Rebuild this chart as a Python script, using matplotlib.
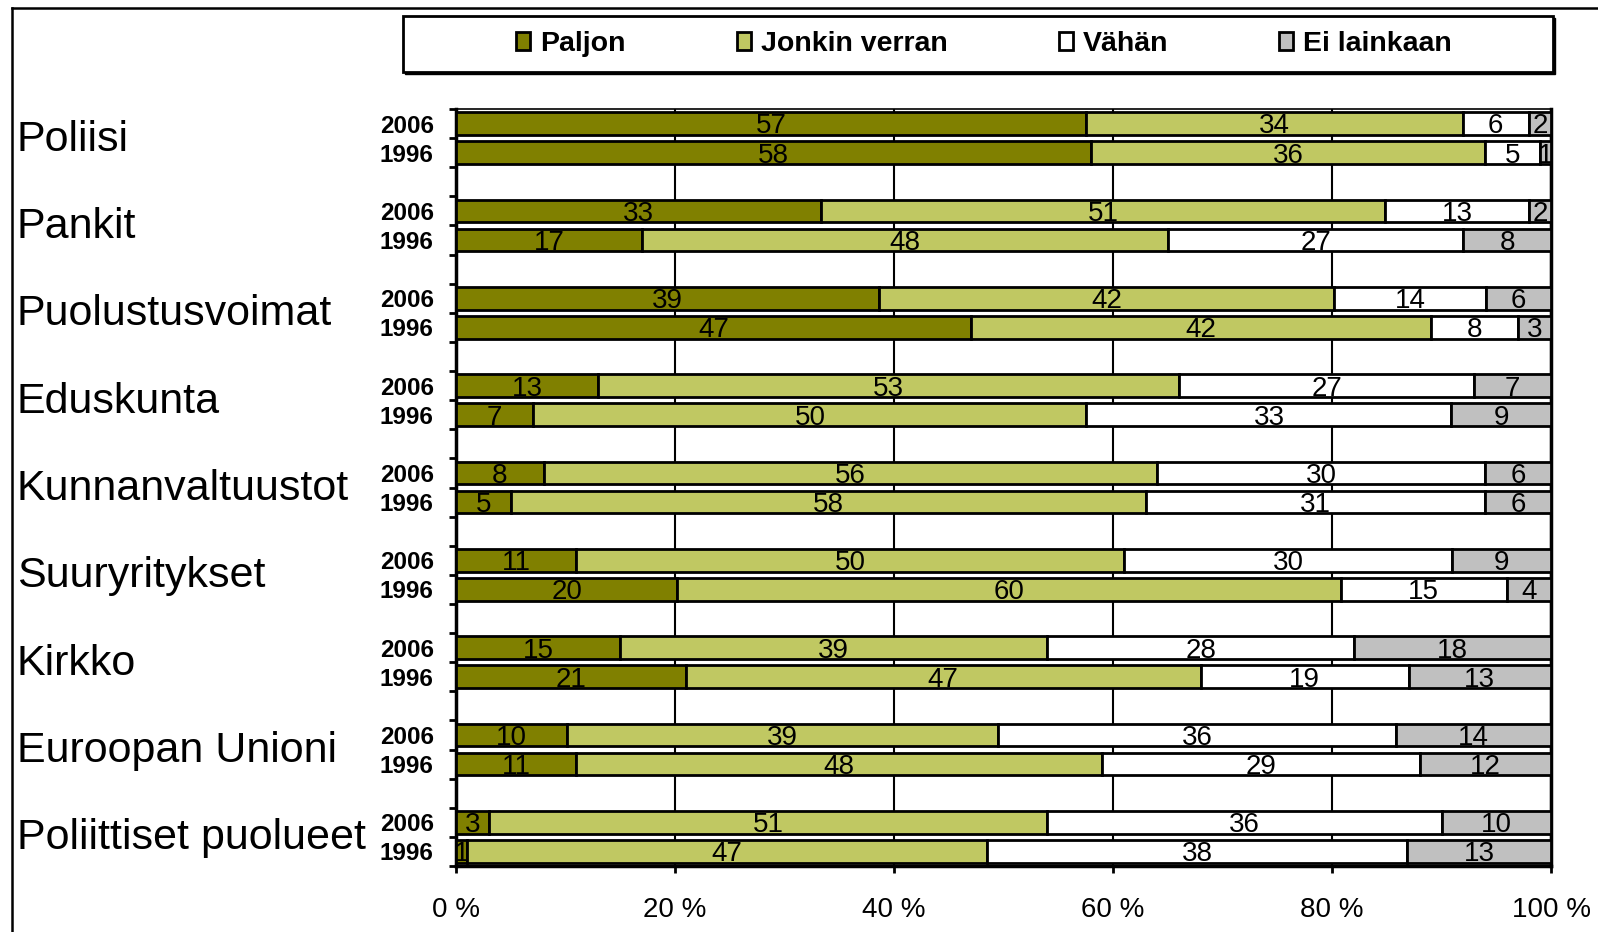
import numpy as np
import matplotlib; matplotlib.use('Agg')
import matplotlib.pyplot as plt
from matplotlib import font_manager
from matplotlib.lines import Line2D
from matplotlib.patches import Rectangle

# data: share of respondents (%), 2006 and 1996
categories = ['Poliisi', 'Pankit', 'Puolustusvoimat', 'Eduskunta', 'Kunnanvaltuustot',
              'Suuryritykset', 'Kirkko', 'Euroopan Unioni', 'Poliittiset puolueet']
years = ['2006', '1996']
series = ['Paljon', 'Jonkin verran', 'Vähän', 'Ei lainkaan']
paljon_2006 = [57, 33, 39, 13, 8, 11, 15, 10, 3]
paljon_1996 = [58, 17, 47, 7, 5, 20, 21, 11, 1]
jonkin_2006 = [34, 51, 42, 53, 56, 50, 39, 39, 51]
jonkin_1996 = [36, 48, 42, 50, 58, 60, 47, 48, 47]
vahan_2006 = [6, 13, 14, 27, 30, 30, 28, 36, 36]
vahan_1996 = [5, 27, 8, 33, 31, 15, 19, 29, 38]
ei_2006 = [2, 2, 6, 7, 6, 9, 18, 14, 10]
ei_1996 = [1, 8, 3, 9, 6, 4, 13, 12, 13]
x_ticks = [0, 20, 40, 60, 80, 100]

colors = ['#808000', '#C0C862', '#FFFFFF', '#C0C0C0']

names = {f.name for f in font_manager.fontManager.ttflist}
narrow = ['Liberation Sans Narrow', 'Liberation Sans'] if 'Liberation Sans Narrow' in names else ['Liberation Sans']
plt.rcParams['font.family'] = ['Liberation Sans', 'DejaVu Sans']

W, H = 1598, 932
def fx(px): return px / W
def fy(py): return 1 - py / H

# slot layout: 2006, 1996, blank per category
vals = {
    '2006': np.array([paljon_2006, jonkin_2006, vahan_2006, ei_2006], dtype=float),
    '1996': np.array([paljon_1996, jonkin_1996, vahan_1996, ei_1996], dtype=float),
}
pos, raw, ylab = [], [], []
for g in range(len(categories)):
    for k, yr in enumerate(years):
        pos.append(3 * g + k)
        raw.append(vals[yr][:, g])
        ylab.append(yr)
pos = np.array(pos)
raw = np.array(raw)                  # (18, 4)
pct = raw / raw.sum(1, keepdims=True) * 100

fig = plt.figure(figsize=(W / 100, H / 100), dpi=100)
ax = fig.add_axes([fx(456), fy(866), (1551 - 456) / W, (866 - 109) / H])

left = np.zeros(len(pos))
for j, s in enumerate(series):
    ax.barh(pos, pct[:, j], left=left, height=0.78, color=colors[j],
            edgecolor='black', linewidth=2, label=s, zorder=3)
    for i in range(len(pos)):
        ax.text(left[i] + pct[i, j] / 2, pos[i] + 0.1, f'{int(raw[i, j])}',
                ha='center', va='center', fontsize=20, family=narrow, zorder=4)
    left += pct[:, j]

ax.set_xlim(0, 100)
ax.set_ylim(25.5, -0.5)
ax.set_xticks(x_ticks)
ax.set_xticklabels([f'{t} %' for t in x_ticks], fontsize=20, family=narrow)
ax.tick_params(axis='x', length=5, width=2, pad=17, direction='out')
ax.set_yticks(pos)
ax.set_yticklabels(ylab, fontsize=17.5, fontweight='bold', family=narrow)
ax.set_yticks(np.arange(-0.5, 25.6, 1), minor=True)
ax.tick_params(axis='y', which='major', length=0, pad=16)
ax.tick_params(axis='y', which='minor', length=5, width=2, direction='out')
ax.grid(axis='x', color='black', linewidth=1.5, zorder=0)
ax.spines['top'].set_linewidth(1.2)
for sp in ['left', 'bottom', 'right']:
    ax.spines[sp].set_linewidth(2.5)

# category names, centred between the two year bars
for g, c in enumerate(categories):
    yfig = fig.transFigure.inverted().transform(ax.transData.transform((0, 3 * g + 0.55)))[1]
    fig.text(fx(17), yfig, c, fontsize=31, va='center', ha='left')

# legend box with a small shadow
fig.add_artist(Rectangle((fx(405), fy(74)), (1553 - 403) / W, (72 - 16) / H,
                         transform=fig.transFigure, facecolor='black', edgecolor='black', zorder=1))
fig.add_artist(Rectangle((fx(403), fy(72)), (1553 - 403) / W, (72 - 16) / H,
                         transform=fig.transFigure, facecolor='white', edgecolor='black',
                         linewidth=2, zorder=2))
h, l = ax.get_legend_handles_labels()
leg = fig.legend(h, l, loc='center', ncol=4, bbox_to_anchor=(fx(984), fy(44)),
                 prop={'size': 20.5, 'weight': 'bold', 'family': narrow},
                 frameon=False, handlelength=0.5, handleheight=0.55,
                 handletextpad=0.35, columnspacing=3.9, borderpad=0)
leg.set_zorder(3)

# outer chart frame (partly cropped)
fig.add_artist(Line2D([fx(12), fx(12)], [0, fy(8)], color='black', linewidth=1.8,
                      transform=fig.transFigure))
fig.add_artist(Line2D([fx(12), 1], [fy(8), fy(8)], color='black', linewidth=1.8,
                      transform=fig.transFigure))

plt.savefig('out.png', dpi=100)
plt.close()
